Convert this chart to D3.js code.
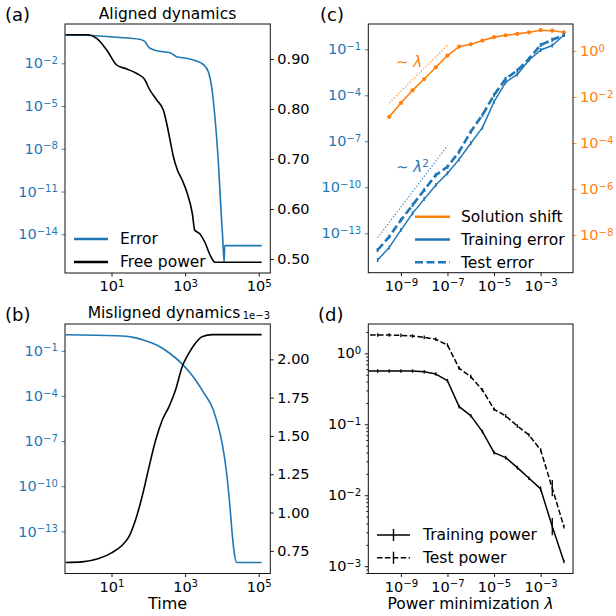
<!DOCTYPE html>
<html>
<head>
<meta charset="utf-8">
<script src="https://cdn.jsdelivr.net/npm/d3@7"></script>
<style>
  body { margin: 0; background: #fff; }
  text { font-family: "DejaVu Sans", sans-serif; }
</style>
</head>
<body>
<svg id="fig" width="616" height="616"></svg>
<script>
const blue = "#1f77b4";
const orange = "#ff7f0e";

// (a) aligned dynamics, log10(time) vs log10(error) / free power
const alignedErrTime = [-0.245, 0.326, 1.141, 1.76, 1.91, 2.02, 2.23, 2.59, 2.77, 3.04, 3.31, 3.49, 3.63, 3.72, 3.81, 3.90, 3.97, 4.02, 4.062, 4.075, 5.08];
const alignedErr = [0.0, -0.035, -0.175, -0.316, -0.484, -0.905, -1.116, -1.256, -1.537, -1.649, -1.84, -2.07, -2.59, -3.64, -5.75, -8.79, -12.06, -14.2, -15.97, -14.8, -14.8];
const alignedPowTime = [-0.245, 0.326, 0.598, 0.870, 1.141, 1.413, 1.685, 1.910, 2.019, 2.228, 2.408, 2.5, 2.59, 2.68, 2.79, 2.92, 3.06, 3.196, 3.26, 3.405, 3.54, 3.677, 3.81, 5.08];
const alignedPow = [0.9486, 0.9486, 0.9413, 0.918, 0.888, 0.880, 0.871, 0.858, 0.841, 0.818, 0.798, 0.771, 0.738, 0.705, 0.678, 0.658, 0.631, 0.591, 0.558, 0.550, 0.533, 0.508, 0.4934, 0.4934];

// (b) misaligned dynamics
const misErrTime = [-0.245, 1.141, 1.594, 1.866, 2.228, 2.59, 2.95, 3.22, 3.49, 3.77, 3.95, 4.04, 4.13, 4.22, 4.28, 4.34, 4.40, 5.08];
const misErr = [0.067, 0.0, -0.107, -0.287, -0.62, -1.18, -1.95, -2.73, -3.73, -4.95, -6.51, -7.62, -9.17, -11.4, -13.17, -14.51, -15.07, -15.07];
const misPowTime = [-0.245, 0.2, 0.653, 1.014, 1.29, 1.47, 1.65, 1.83, 2.02, 2.20, 2.38, 2.56, 2.74, 2.92, 3.10, 3.28, 3.46, 3.74, 5.08];
const misPow = [0.674, 0.678, 0.700, 0.739, 0.787, 0.841, 0.950, 1.103, 1.298, 1.473, 1.604, 1.690, 1.80, 1.952, 2.039, 2.105, 2.148, 2.161, 2.161]; // x1e-3

// (c) log10(lambda) vs errors and solution shift
const lambdaC = [-10, -9.5, -9, -8.5, -8, -7.5, -7, -6.5, -6, -5.5, -5, -4.5, -4, -3.5, -3, -2.5, -2];
const trainErr = [-14.74, -13.92, -12.79, -11.70, -10.77, -9.85, -9.09, -8.18, -7.13, -6.11, -4.42, -3.15, -2.64, -1.70, -1.05, -0.75, -0.07];
const testErr = [-14.09, -13.22, -12.14, -11.16, -10.18, -9.20, -8.66, -7.68, -6.37, -5.29, -3.98, -2.92, -2.38, -1.62, -0.72, -0.38, -0.07];
const lambdaShift = [-9.5, -9, -8.5, -8, -7.5, -7, -6.5, -6, -5.5, -5, -4.5, -4, -3.5, -3, -2.5, -2];
const shift = [-2.86, -2.26, -1.71, -1.22, -0.71, -0.20, 0.19, 0.29, 0.45, 0.60, 0.68, 0.74, 0.81, 0.90, 0.88, 0.81];
const refLambda = { x: [-9.5, -7], y: [-2.25, 0.25] };
const refLambda2 = { x: [-10, -7], y: [-13.29, -7.29] };
const errSpreadC = 1.35;

// (d) power vs lambda
const lambdaD = [-11, -10, -9.5, -9, -8.5, -8, -7.5, -7, -6.5, -6, -5.5, -5, -4.5, -4, -3.5, -3, -2.5, -2];
const trainPow = [-0.249, -0.249, -0.249, -0.249, -0.249, -0.259, -0.292, -0.386, -0.752, -0.879, -1.104, -1.40, -1.47, -1.611, -1.761, -1.911, -2.442, -2.935];
const testPow = [0.258, 0.258, 0.258, 0.253, 0.244, 0.225, 0.197, 0.117, -0.211, -0.329, -0.517, -0.789, -0.883, -1.024, -1.151, -1.362, -1.901, -2.442];
const trainPowSpread = [1.06, 1.06, 1.06, 1.06, 1.06, 1.06, 1.06, 1.06, 1.06, 1.06, 1.06, 1.06, 1.06, 1.06, 1.06, 1.08, 1.32, 1.06];
const testPowSpread = [1.06, 1.06, 1.06, 1.06, 1.06, 1.06, 1.06, 1.06, 1.06, 1.06, 1.06, 1.06, 1.06, 1.06, 1.06, 1.06, 1.3, 1.06];

const svg = d3.select("#fig");
const pw = (v) => Math.pow(10, v);
const zip = (a, b) => a.map((v, i) => [v, b[i]]);

const boxes = {
  a: { x0: 65, x1: 270.3, y0: 24, y1: 273 },
  b: { x0: 65, x1: 270.3, y0: 324, y1: 573.5 },
  c: { x0: 368.3, x1: 573, y0: 24, y1: 272.7 },
  d: { x0: 368.3, x1: 573, y0: 324, y1: 573.5 },
};

Object.entries(boxes).forEach(([k, b]) => {
  svg.append("clipPath").attr("id", "clip-" + k)
    .append("rect").attr("x", b.x0).attr("y", b.y0)
    .attr("width", b.x1 - b.x0).attr("height", b.y1 - b.y0);
});

// scales
const xT = d3.scaleLog().domain([pw(-0.264), pw(5.315)]).range([65, 270.3]);
const yA = d3.scaleLog().domain([pw(-16.72), pw(0.76)]).range([273, 24]);
const yA2 = d3.scaleLinear().domain([0.472, 0.97]).range([273, 24]);
const yB = d3.scaleLog().domain([pw(-15.8), pw(0.78)]).range([573.5, 324]);
const yB2 = d3.scaleLinear().domain([0.6024, 2.2306]).range([573.5, 324]);
const xL = d3.scaleLog().domain([pw(-10.4), pw(-1.61)]).range([368.3, 573]);
const xLd = d3.scaleLog().domain([pw(-10.4), pw(-1.61)]).range([368.3, 573]);
const yC = d3.scaleLog().domain([pw(-15.57), pw(0.65)]).range([272.7, 24]);
const yC2 = d3.scaleLog().domain([pw(-9.63), pw(1.17)]).range([272.7, 24]);
const yD = d3.scaleLog().domain([pw(-3.103), pw(0.413)]).range([573.5, 324]);

function powLabels(g) {
  g.selectAll(".tick text").each(function (d) {
    const e = Math.round(Math.log10(d));
    const t = d3.select(this).text(null);
    t.append("tspan").text("10");
    t.append("tspan").attr("dy", "-0.45em").attr("font-size", "0.7em")
      .text(e < 0 ? "\u2212" + -e : String(e));
  });
}

function drawAxis(axis, tx, ty, color, isPow) {
  const g = svg.append("g").attr("transform", `translate(${tx},${ty})`).call(axis);
  g.attr("font-family", "DejaVu Sans").attr("font-size", 14.5);
  g.select(".domain").remove();
  g.selectAll(".tick line").attr("stroke", color).attr("stroke-width", 0.9);
  g.selectAll(".tick text").attr("fill", color);
  if (isPow) powLabels(g);
  return g;
}

// axes (a)
drawAxis(d3.axisLeft(yA).tickValues([1e-2, 1e-5, 1e-8, 1e-11, 1e-14]).tickSize(3.5).tickPadding(3.5), 65, 0, blue, true);
drawAxis(d3.axisRight(yA2).tickValues([0.5, 0.6, 0.7, 0.8, 0.9]).tickFormat(d3.format(".2f")).tickSize(3.5).tickPadding(3.5), 270.3, 0, "#000", false);
drawAxis(d3.axisBottom(xT).tickValues([1e1, 1e3, 1e5]).tickSize(3.5).tickPadding(4.5), 0, 273, "#000", true);
// axes (b)
drawAxis(d3.axisLeft(yB).tickValues([1e-1, 1e-4, 1e-7, 1e-10, 1e-13]).tickSize(3.5).tickPadding(3.5), 65, 0, blue, true);
drawAxis(d3.axisRight(yB2).tickValues([0.75, 1.0, 1.25, 1.5, 1.75, 2.0]).tickFormat(d3.format(".2f")).tickSize(3.5).tickPadding(3.5), 270.3, 0, "#000", false);
drawAxis(d3.axisBottom(xT).tickValues([1e1, 1e3, 1e5]).tickSize(3.5).tickPadding(4.5), 0, 573.5, "#000", true);
// axes (c)
drawAxis(d3.axisLeft(yC).tickValues([1e-1, 1e-4, 1e-7, 1e-10, 1e-13]).tickSize(3.5).tickPadding(3.5), 368.3, 0, blue, true);
drawAxis(d3.axisRight(yC2).tickValues([1e0, 1e-2, 1e-4, 1e-6, 1e-8]).tickSize(3.5).tickPadding(3.5), 573, 0, orange, true);
drawAxis(d3.axisBottom(xL).tickValues([1e-9, 1e-7, 1e-5, 1e-3]).tickSize(3.5).tickPadding(4.5), 0, 272.7, "#000", true);
// axes (d)
drawAxis(d3.axisLeft(yD).tickValues([1e0, 1e-1, 1e-2, 1e-3]).tickSize(3.5).tickPadding(3.5), 368.3, 0, "#000", true);
const minorD = [];
[-4, -3, -2, -1, 0].forEach((e) => d3.range(2, 10).forEach((m) => {
  const v = m * pw(e);
  if (v > yD.domain()[0] && v < yD.domain()[1]) minorD.push(v);
}));
drawAxis(d3.axisLeft(yD).tickValues(minorD).tickSize(2).tickFormat(""), 368.3, 0, "#000", false);
drawAxis(d3.axisBottom(xLd).tickValues([1e-9, 1e-7, 1e-5, 1e-3]).tickSize(3.5).tickPadding(4.5), 0, 573.5, "#000", true);

// lines
function plotLine(panel, xs, ys, x, y, opts) {
  const line = d3.line()
    .x((d) => x(pw(d[0])))
    .y((d) => y(opts.lin ? d[1] : pw(d[1])))
    .curve(opts.curve || d3.curveLinear);
  return svg.append("path")
    .attr("clip-path", `url(#clip-${panel})`)
    .attr("d", line(zip(xs, ys)))
    .attr("fill", "none")
    .attr("stroke", opts.color)
    .attr("stroke-width", opts.width || 1.6)
    .attr("stroke-dasharray", opts.dash || null)
    .attr("stroke-linejoin", "round");
}

function errBars(panel, xs, ys, spread, x, y, color, w) {
  svg.append("g").attr("clip-path", `url(#clip-${panel})`)
    .selectAll("line").data(zip(xs, ys)).join("line")
    .attr("x1", (d) => x(pw(d[0]))).attr("x2", (d) => x(pw(d[0])))
    .attr("y1", (d, i) => y(pw(d[1]) * (Array.isArray(spread) ? spread[i] : spread)))
    .attr("y2", (d, i) => y(pw(d[1]) / (Array.isArray(spread) ? spread[i] : spread)))
    .attr("stroke", color).attr("stroke-width", w || 1.3);
}

const smooth = d3.curveMonotoneX;
plotLine("a", alignedErrTime, alignedErr, xT, yA, { color: blue, curve: smooth });
plotLine("a", alignedPowTime, alignedPow, xT, yA2, { color: "#000", lin: true, curve: smooth });
plotLine("b", misErrTime, misErr, xT, yB, { color: blue, curve: smooth });
plotLine("b", misPowTime, misPow, xT, yB2, { color: "#000", lin: true, curve: smooth });

// (c)
plotLine("c", refLambda.x, refLambda.y, xL, yC2, { color: orange, width: 1.1, dash: "1.2,2" });
plotLine("c", refLambda2.x, refLambda2.y, xL, yC, { color: blue, width: 1.1, dash: "1.2,2" });
plotLine("c", lambdaShift, shift, xL, yC2, { color: orange, width: 1.6 });
svg.append("g").attr("clip-path", "url(#clip-c)")
  .selectAll("circle").data(zip(lambdaShift, shift)).join("circle")
  .attr("cx", (d) => xL(pw(d[0]))).attr("cy", (d) => yC2(pw(d[1])))
  .attr("r", 2.1).attr("fill", orange);
plotLine("c", lambdaC, trainErr, xL, yC, { color: blue, width: 1.5 });
errBars("c", lambdaC, trainErr, errSpreadC, xL, yC, blue, 1.5);
plotLine("c", lambdaC, testErr, xL, yC, { color: blue, width: 2.6, dash: "8,3.5" });
errBars("c", lambdaC, testErr, errSpreadC, xL, yC, blue, 2);

// (d)
plotLine("d", lambdaD, trainPow, xLd, yD, { color: "#000", width: 1.5 });
errBars("d", lambdaD, trainPow, trainPowSpread, xLd, yD, "#000", 1.3);
plotLine("d", lambdaD, testPow, xLd, yD, { color: "#000", width: 1.5, dash: "5.5,2.4" });
errBars("d", lambdaD, testPow, testPowSpread, xLd, yD, "#000", 1.3);

// frames
Object.values(boxes).forEach((b) => {
  svg.append("rect").attr("x", b.x0).attr("y", b.y0)
    .attr("width", b.x1 - b.x0).attr("height", b.y1 - b.y0)
    .attr("fill", "none").attr("stroke", "#111").attr("stroke-width", 1);
});

// titles, labels
function txt(x, y, s, size, anchor, color) {
  return svg.append("text").attr("x", x).attr("y", y).attr("font-size", size)
    .attr("text-anchor", anchor || "start").attr("fill", color || "#000").text(s);
}
txt(5, 20.5, "(a)", 18);
txt(5, 320.5, "(b)", 18);
txt(320, 20.5, "(c)", 18);
txt(318, 320.5, "(d)", 18);
txt(167.5, 18.5, "Aligned dynamics", 15.5, "middle");
txt(164, 318, "Misligned dynamics", 15.5, "middle");
txt(270, 318.5, "1e\u22123", 10, "end");
txt(167.5, 608.5, "Time", 16, "middle");
const xlab = txt(470.5, 608.5, "Power minimization ", 15.5, "middle");
xlab.append("tspan").attr("font-style", "italic").text("\u03bb");

const lamO = txt(396, 66.5, "\u223c ", 15, "start", orange);
lamO.append("tspan").attr("font-style", "italic").text("\u03bb");
const lamB = txt(396, 171.5, "\u223c ", 15, "start", blue);
lamB.append("tspan").attr("font-style", "italic").text("\u03bb");
lamB.append("tspan").attr("dy", "-0.45em").attr("font-size", "0.7em").text("2");

// legends
function legend(x, y0, step, items) {
  items.forEach((it, i) => {
    const y = y0 + i * step;
    svg.append("line").attr("x1", x).attr("x2", x + it.len).attr("y1", y).attr("y2", y)
      .attr("stroke", it.color).attr("stroke-width", it.width)
      .attr("stroke-dasharray", it.dash || null);
    if (it.bar) {
      svg.append("line").attr("x1", x + it.len / 2).attr("x2", x + it.len / 2)
        .attr("y1", y - 6).attr("y2", y + 6).attr("stroke", it.color).attr("stroke-width", 1.4);
    }
    txt(x + it.len + it.gap, y + 5.4, it.label, 15.5);
  });
}
legend(74, 239, 23, [
  { label: "Error", color: blue, width: 2.6, len: 34, gap: 12 },
  { label: "Free power", color: "#000", width: 2.6, len: 34, gap: 12 },
]);
legend(415, 216.7, 22.8, [
  { label: "Solution shift", color: orange, width: 2.6, len: 35, gap: 11 },
  { label: "Training error", color: blue, width: 2.6, len: 35, gap: 11 },
  { label: "Test error", color: blue, width: 2.6, len: 35, gap: 11, dash: "8,3.5" },
]);
legend(377, 535, 22.7, [
  { label: "Training power", color: "#000", width: 1.5, len: 33, gap: 13, bar: true },
  { label: "Test power", color: "#000", width: 1.5, len: 33, gap: 13, bar: true, dash: "5.5,2.4" },
]);
</script>
</body>
</html>
